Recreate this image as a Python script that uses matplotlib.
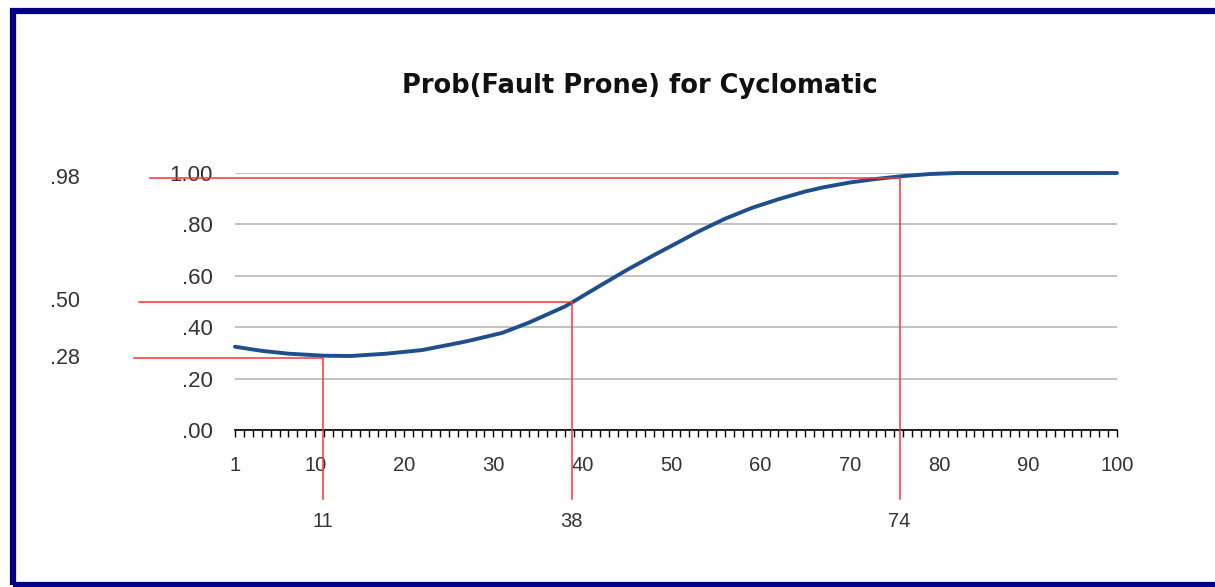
import numpy as np
import matplotlib
matplotlib.use("Agg")
import matplotlib.pyplot as plt
from matplotlib.patches import Rectangle
from matplotlib.transforms import blended_transform_factory

plt.rcParams['font.family'] = ['Liberation Sans', 'DejaVu Sans']

# curve
cyclo = [1, 4, 7, 11, 14, 18, 22, 27, 31, 34, 38, 39, 42, 45, 48, 51, 53, 56, 59, 62, 65, 67,
         70, 73, 76, 79, 82, 90, 100]
prob = [0.324, 0.308, 0.297, 0.289, 0.288, 0.297, 0.311, 0.345, 0.378, 0.418, 0.48, 0.50,
        0.562, 0.623, 0.68, 0.735, 0.772, 0.822, 0.864, 0.898, 0.928, 0.944,
        0.963, 0.977, 0.988, 0.996, 1.0, 1.0, 1.0]

xtick_vals = [1, 10, 20, 30, 40, 50, 60, 70, 80, 90, 100]
ytick_vals = [0.0, 0.2, 0.4, 0.6, 0.8, 1.0]
ytick_labels = ['.00', '.20', '.40', '.60', '.80', '1.00']

# marked points: probability level and cyclomatic value
mark_prob = [0.98, 0.50, 0.28]
mark_prob_labels = ['.98', '.50', '.28']
mark_x = [75.6, 38.8, 10.9]
mark_x_labels = ['74', '38', '11']

W, H = 1215, 587
fig = plt.figure(figsize=(W / 100, H / 100), dpi=100)
ax = fig.add_axes([235 / W, 1 - 430 / H, (1117 - 235) / W, (430 - 173) / H])

ax.plot(cyclo, prob, color='#1f4e8c', lw=2.8, clip_on=False, zorder=3,
        solid_joinstyle='round', solid_capstyle='round')

ax.set_xlim(1, 100)
ax.set_ylim(0, 1)
ax.set_yticks(ytick_vals)
ax.set_yticklabels(ytick_labels)
ax.set_xticks(xtick_vals)
ax.set_xticks(np.arange(1, 101), minor=True)
ax.grid(axis='y', color='#b8b8b8', lw=1.2)
ax.set_axisbelow(True)
for s in ['left', 'right', 'top']:
    ax.spines[s].set_visible(False)
ax.spines['bottom'].set_color('black')
ax.spines['bottom'].set_linewidth(1.2)
ax.tick_params(axis='y', length=0, pad=16, labelsize=16, labelcolor='#333333')
ax.tick_params(axis='x', which='both', direction='out', length=5, width=1, color='black')
ax.tick_params(axis='x', which='major', pad=14, labelsize=14.5, labelcolor='#333333')

# red guide lines
starts = [-8.5, -9.8, -10.3]
for p, xv, x0 in zip(mark_prob, mark_x, starts):
    ax.plot([x0, xv], [p, p], color='#ff3333', lw=1.1, clip_on=False, zorder=4)
    ax.plot([xv, xv], [p, -0.27], color='#ff3333', lw=1.1, clip_on=False, zorder=4)

tr = blended_transform_factory(fig.transFigure, ax.transData)
for p, lab in zip(mark_prob, mark_prob_labels):
    ax.text(65 / W, p, lab, transform=tr, ha='center', va='center', fontsize=15.5, color='#333333')
for xv, lab in zip(mark_x, mark_x_labels):
    ax.text(xv, -0.355, lab, ha='center', va='center', fontsize=14.5, color='#333333', clip_on=False)

fig.text(640 / W, 1 - 86 / H, 'Prob(Fault Prone) for Cyclomatic', ha='center', va='center',
         fontsize=18.5, fontweight='bold', color='#111111', family='DejaVu Sans')

# navy frame
fig.patches.append(Rectangle((12.5 / W, 2.5 / H), (W + 10) / W, (H - 10.5 - 2.5) / H,
                             transform=fig.transFigure, fill=False, ec='#000080', lw=4.5))

fig.savefig('out.png', dpi=100)
